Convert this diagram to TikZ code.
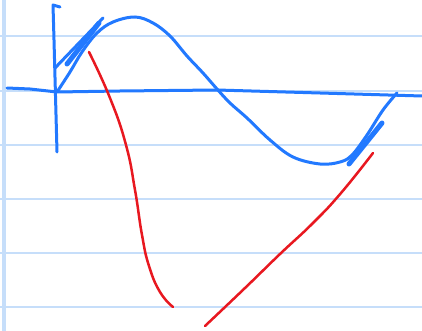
\documentclass[tikz,border=0pt]{standalone}
\usetikzlibrary{backgrounds}

\definecolor{paperline}{RGB}{198,222,250}
\definecolor{penblue}{RGB}{34,121,255}
\definecolor{penred}{RGB}{232,24,32}

\tikzset{
  ruled/.style={paperline, line width=2pt},
  bluepen/.style={penblue, line width=3pt, line cap=round, line join=round},
  redpen/.style={penred, line width=2.5pt, line cap=round, line join=round}
}

\begin{document}
\begin{tikzpicture}[x=1pt, y=-1pt]
	\useasboundingbox[fill=white] (0,0) rectangle (422,331);
	
	% 横格纸
	\foreach \yy in {36.5, 91, 145, 199, 253, 307} {
		\draw[ruled] (0,\yy) -- (422,\yy);
	}
	\draw[paperline, line width=4pt] (3.5,0) -- (3.5,331);
	
	% 坐标轴
	\draw[bluepen] (60,7) -- (53,5) -- (54,40) -- (57,152);
	\draw[bluepen] (7,88) -- (30,89) -- (57,92) -- (120,91) -- (217,90) -- (320,93) -- (422,96);
	
	% 曲线
	\draw[bluepen] plot[smooth, tension=0.6] coordinates {
		(57,92) (70,72) (82,52) (97,33) (113,22) (135,17) (153,23) (170,36)
		(187,56) (203,73) (217,89) (230,103) (247,118) (270,140) (293,157) (320,164)
		(340,162) (352,155) (367,135) (383,110) (397,93)};
	
	% 切线
	\draw[bluepen] (55,68) -- (103,18);
	\draw[bluepen, line width=5pt] (67,64) -- (99,23);
	\draw[bluepen, line width=5pt] (349,164) -- (382,123);
	
	% 红线
	\draw[redpen] plot[smooth, tension=0.8] coordinates {
		(89,52) (110,98) (126,145) (135,190) (142,235) (149,266) (160,292) (173,307)};
	\draw[redpen] plot[smooth, tension=0.8] coordinates {
		(205,326) (245,288) (280,254) (313,223) (341,193) (373,153)};
\end{tikzpicture}
\end{document}
